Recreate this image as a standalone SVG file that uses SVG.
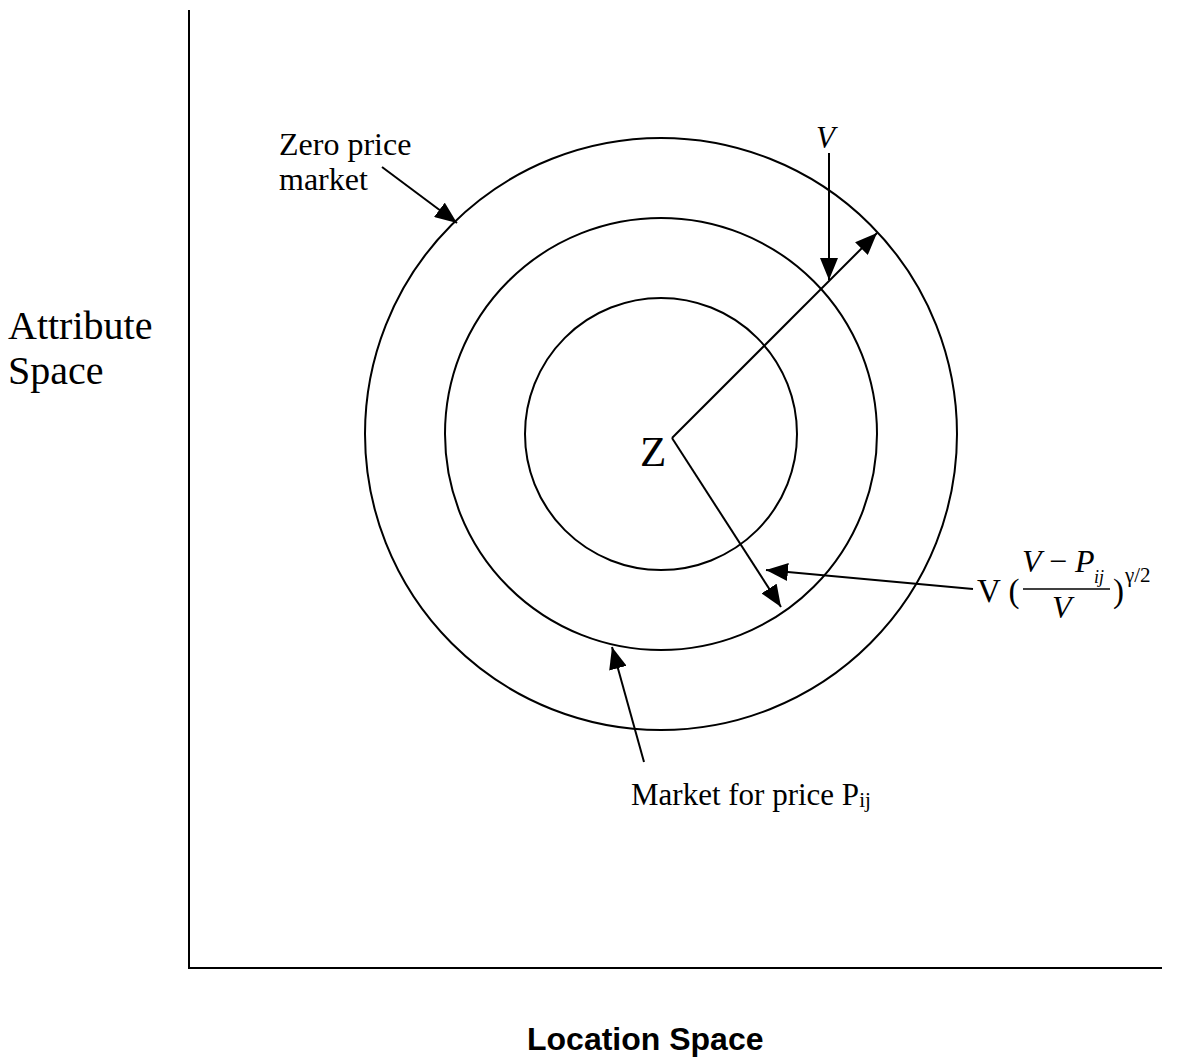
<svg xmlns="http://www.w3.org/2000/svg" width="1190" height="1059" viewBox="0 0 1190 1059">
<style>
.ln{stroke:#000;stroke-width:2;fill:none}
.t{font-family:"Liberation Serif","Times New Roman",serif;fill:#000}
.i{font-style:italic}
.b{font-family:"Liberation Sans",Arial,sans-serif;font-weight:bold;fill:#000}
</style>
<defs>
<marker id="a" viewBox="0 0 22 18" refX="22" refY="9" markerWidth="22" markerHeight="18" markerUnits="userSpaceOnUse" orient="auto">
<path d="M0,0 L22,9 L0,18 z" fill="#000"/>
</marker>
</defs>
<rect width="1190" height="1059" fill="#fff"/>
<g id="axes">
<line class="ln" x1="189" y1="10" x2="189" y2="969"/>
<line class="ln" x1="188" y1="968" x2="1162" y2="968"/>
</g>
<g id="circles">
<circle class="ln" cx="661" cy="434" r="296"/>
<circle class="ln" cx="661" cy="434" r="216"/>
<circle class="ln" cx="661" cy="434" r="136"/>
</g>
<g id="connectors">
<line class="ln" x1="672" y1="438" x2="877" y2="233" marker-end="url(#a)"/>
<line class="ln" x1="672" y1="438" x2="781" y2="607" marker-end="url(#a)"/>
<line class="ln" x1="829" y1="153" x2="829" y2="280" marker-end="url(#a)"/>
<line class="ln" x1="382" y1="167" x2="457" y2="223" marker-end="url(#a)"/>
<line class="ln" x1="973" y1="589" x2="766" y2="570" marker-end="url(#a)"/>
<line class="ln" x1="644" y1="762" x2="612" y2="647" marker-end="url(#a)"/>
</g>
<g id="labels">
<text class="t" font-size="32"><tspan x="279" y="155">Zero price</tspan><tspan x="279" y="190">market</tspan></text>
<text class="t i" x="816" y="148" font-size="31">V</text>
<text class="t" x="8" y="339" font-size="40">Attribute</text>
<text class="t" x="8" y="384" font-size="40">Space</text>
<text class="t" x="640" y="466" font-size="43">Z</text>
<text class="t" x="631" y="805" font-size="31">Market for price P<tspan font-size="21" dy="2">ij</tspan></text>
<text class="b" x="527" y="1050" font-size="32">Location Space</text>
</g>
<g id="formula">
<text class="t" x="977" y="602" font-size="33">V (</text>
<text class="t i" x="1022" y="572" font-size="32">V</text>
<text class="t" x="1049" y="572" font-size="32">−</text>
<text class="t i" x="1075" y="572" font-size="32">P</text>
<text class="t i" x="1094" y="583" font-size="18">ij</text>
<line x1="1023" y1="589" x2="1110" y2="589" stroke="#000" stroke-width="1.5"/>
<text class="t i" x="1052" y="618" font-size="32">V</text>
<text class="t" x="1113" y="602" font-size="33">)</text>
<text class="t" x="1125" y="582" font-size="21">γ/2</text>
</g>
</svg>
